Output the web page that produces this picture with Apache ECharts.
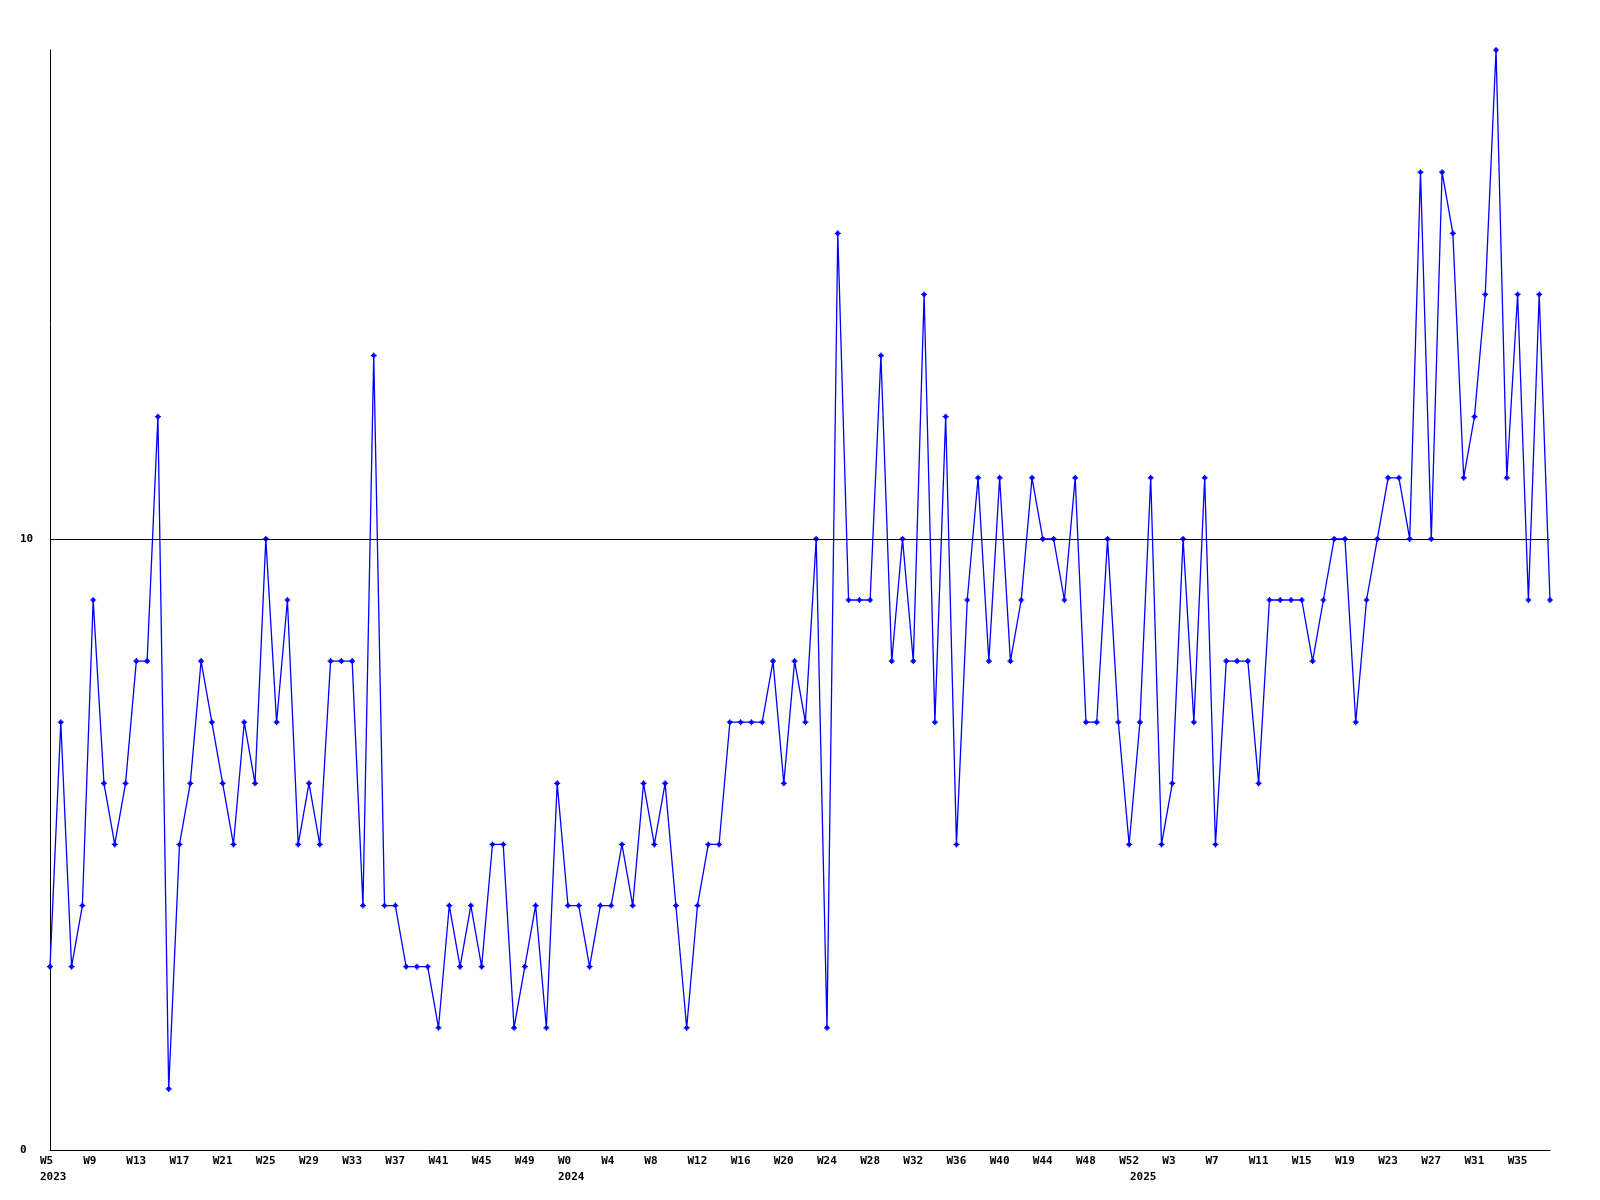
<!DOCTYPE html>
<html>
<head>
<meta charset="utf-8">
<script src="https://cdn.jsdelivr.net/npm/echarts@6/dist/echarts.min.js"></script>
<style>html,body{margin:0;padding:0;background:#fff}#c{width:1600px;height:1200px}</style>
</head>
<body>
<div id="c"></div>
<script>
// Years shown on the x axis, with the first and last week of each year in the data
const yearLabels = ['2023', '2024', '2025'];
const firstWeek = [5, 0, 0];
const lastWeek = [52, 52, 38];

// Weekly values, from 2023 W5 to 2025 W38
const values = [
  3, 7, 3, 4, 9, 6, 5, 6, 8, 8, 12, 1, 5, 6, 8, 7, 6, 5, 7, 6,
  10, 7, 9, 5, 6, 5, 8, 8, 8, 4, 13, 4, 4, 3, 3, 3, 2, 4, 3, 4,
  3, 5, 5, 2, 3, 4, 2, 6, 4, 4, 3, 4, 4, 5, 4, 6, 5, 6, 4, 2,
  4, 5, 5, 7, 7, 7, 7, 8, 6, 8, 7, 10, 2, 15, 9, 9, 9, 13, 8, 10,
  8, 14, 7, 12, 5, 9, 11, 8, 11, 8, 9, 11, 10, 10, 9, 11, 7, 7, 10, 7,
  5, 7, 11, 5, 6, 10, 7, 11, 5, 8, 8, 8, 6, 9, 9, 9, 9, 8, 9, 10,
  10, 7, 9, 10, 11, 11, 10, 16, 10, 16, 15, 11, 12, 14, 18, 11, 14, 9, 14, 9
];

// Y tick labels
const yTicks = [0, 10];
const refLine = 10;
const yMax = 18;

// Build categories
const categories = [];
const catWeek = [];
const catYearStart = [];
yearLabels.forEach((y, i) => {
  for (let w = firstWeek[i]; w <= lastWeek[i]; w++) {
    categories.push(y + '-W' + w);
    catWeek.push('W' + w);
    catYearStart.push(w === firstWeek[i] ? y : '');
  }
});

const chart = echarts.init(document.getElementById('c'), null, {renderer: 'canvas'});
const fontFam = '"DejaVu Sans Mono", monospace';
chart.setOption({
  animation: false,
  backgroundColor: '#ffffff',
  grid: {left: 50, right: 50, top: 50, bottom: 50, containLabel: false},
  xAxis: {
    type: 'category',
    data: categories,
    boundaryGap: false,
    axisLine: {lineStyle: {color: '#000', width: 1}},
    axisTick: {show: false},
    splitLine: {show: false},
    axisLabel: {
      interval: function (idx) { return idx % 4 === 0 || catYearStart[idx] !== ''; },
      formatter: function (val, idx) {
        const wk = idx % 4 === 0 ? catWeek[idx] : '';
        return catYearStart[idx] ? wk + '\n' + catYearStart[idx] : wk;
      },
      color: '#000',
      fontFamily: fontFam,
      fontWeight: 'bold',
      fontSize: 11,
      lineHeight: 16,
      align: 'left',
      padding: [0, 0, 0, -10],
      margin: 3
    }
  },
  yAxis: {
    type: 'value',
    min: 0,
    max: yMax,
    interval: 10,
    axisLine: {show: true, lineStyle: {color: '#000', width: 1}},
    axisTick: {show: false},
    splitLine: {show: false},
    axisLabel: {
      customValues: yTicks,
      color: '#000',
      fontFamily: fontFam,
      fontWeight: 'bold',
      fontSize: 11,
      align: 'left',
      margin: 30
    }
  },
  series: [{
    type: 'line',
    data: values,
    color: '#0000ff',
    lineStyle: {color: '#0000ff', width: 1.3},
    itemStyle: {color: '#0000ff'},
    symbol: 'path://M2,0H3V1H4V2H5V3H4V4H3V5H2V4H1V3H0V2H1V1H2Z',
    symbolSize: [6, 6],
    showAllSymbol: true,
    markLine: {
      silent: true,
      symbol: ['none', 'none'],
      label: {show: false},
      lineStyle: {color: '#000', width: 1, type: 'solid'},
      data: [{yAxis: refLine}]
    },
    z: 3
  }]
});
</script>
</body>
</html>
